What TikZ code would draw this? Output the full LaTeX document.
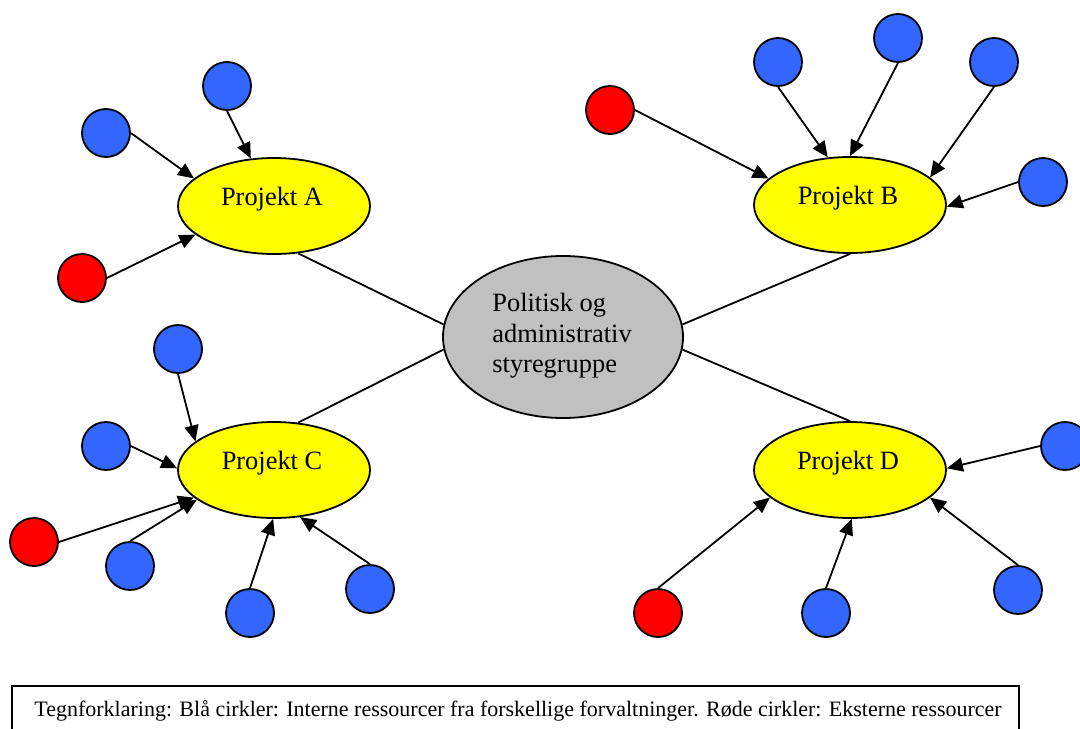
\documentclass[tikz,border=0pt]{standalone}
\usepackage{fontspec}
\setmainfont{Liberation Serif}
\usetikzlibrary{shapes.geometric,arrows.meta}
\definecolor{resblue}{HTML}{3366FF}
\definecolor{resred}{HTML}{FF0000}
\definecolor{projyellow}{HTML}{FFFF00}
\definecolor{boardgray}{HTML}{C0C0C0}
\begin{document}
\begin{tikzpicture}[x=0.5pt,y=-0.5pt,
  proj/.style={ellipse, draw, fill=projyellow, minimum width=96pt, minimum height=48pt, inner sep=0pt, line width=0.9pt},
  board/.style={ellipse, draw, fill=boardgray, minimum width=120pt, minimum height=81pt, inner sep=0pt, line width=0.9pt},
  res/.style={circle, draw, minimum size=24pt, inner sep=0pt, line width=0.9pt},
  internal/.style={res, fill=resblue},
  external/.style={res, fill=resred},
  feed/.style={-{Triangle[length=8pt,width=7pt]}, line width=0.9pt},
  link/.style={line width=0.9pt},
  lbl/.style={font=\fontsize{13.2}{15.5}\selectfont, inner sep=0pt},
  legendfont/.style={font=\fontsize{11}{13}\selectfont, inner sep=0pt}]
\clip (0,0) rectangle (1080,728);
\useasboundingbox (0,0) rectangle (1080,728);

% steering group and the four projects
\node[board] (G) at (563,337) {};
\node[proj] (A) at (274,206) {};
\node[proj] (B) at (850,205) {};
\node[proj] (C) at (274,470) {};
\node[proj] (D) at (850,470) {};

\node[lbl, anchor=base west] (g1) at (492,311) {Politisk og};
\node[lbl, anchor=base west] (g2) at (492,342) {administrativ};
\node[lbl, anchor=base west] (g3) at (492,372) {styregruppe};
\node[lbl, anchor=base] (tA) at (272,205) {Projekt A};
\node[lbl, anchor=base] (tB) at (848,204) {Projekt B};
\node[lbl, anchor=base] (tC) at (272,469) {Projekt C};
\node[lbl, anchor=base] (tD) at (848,469) {Projekt D};

\draw[link] (A.-63) -- (G.174);
\draw[link] (C.63) -- (G.186);
\draw[link] (B.270) -- (G.6);
\draw[link] (D.90) -- (G.-6);

% resources of project A
\node[internal] (a1) at (227,86) {};
\node[internal] (a2) at (106,133) {};
\node[external] (a3) at (82,278) {};
\draw[feed] (a1.south) -- (A.116);
\draw[feed] (a2.east) -- (A.161);
\draw[feed] (a3.east) -- (A.200);

% resources of project B
\node[external] (b1) at (610,110) {};
\node[internal] (b2) at (778,62) {};
\node[internal] (b3) at (898,38) {};
\node[internal] (b4) at (994,62) {};
\node[internal] (b5) at (1043,182) {};
\draw[feed] (b1.east) -- (B.162);
\draw[feed] (b2.south) -- (B.115);
\draw[feed] (b3.south) -- (B.90);
\draw[feed] (b4.south) -- (B.19);
\draw[feed] (b5.west) -- (B.-1);

% resources of project C
\node[internal] (c1) at (178,349) {};
\node[internal] (c2) at (106,446) {};
\node[external] (c3) at (34,542) {};
\node[internal] (c4) at (130,566) {};
\node[internal] (c5) at (250,613) {};
\node[internal] (c6) at (370,589) {};
\draw[feed] (c1.south) -- (C.160);
\draw[feed] (c2.east) -- (C.179);
\draw[feed] (c3.east) -- (C.199);
\draw[feed] (c4.north) -- (C.201);
\draw[feed] (c5.north) -- (C.269);
\draw[feed] (c6.north) -- (C.-61);

% resources of project D
\node[internal] (d1) at (1065,446) {};
\node[external] (d2) at (658,613) {};
\node[internal] (d3) at (826,613) {};
\node[internal] (d4) at (1018,590) {};
\draw[feed] (d1.west) -- (D.1);
\draw[feed] (d2.north) -- (D.199);
\draw[feed] (d3.north) -- (D.-88);
\draw[feed] (d4.north) -- (D.-19);

% legend
\node[draw, line width=0.9pt, anchor=north west, minimum width=503.5pt, minimum height=35pt, inner sep=0pt] (legend) at (11,685) {};
\node[legendfont, anchor=base west] (legendtext) at (34,716) {Tegnforklaring: Blå cirkler: Interne ressourcer fra forskellige forvaltninger. Røde cirkler: Eksterne ressourcer};
\end{tikzpicture}
\end{document}
